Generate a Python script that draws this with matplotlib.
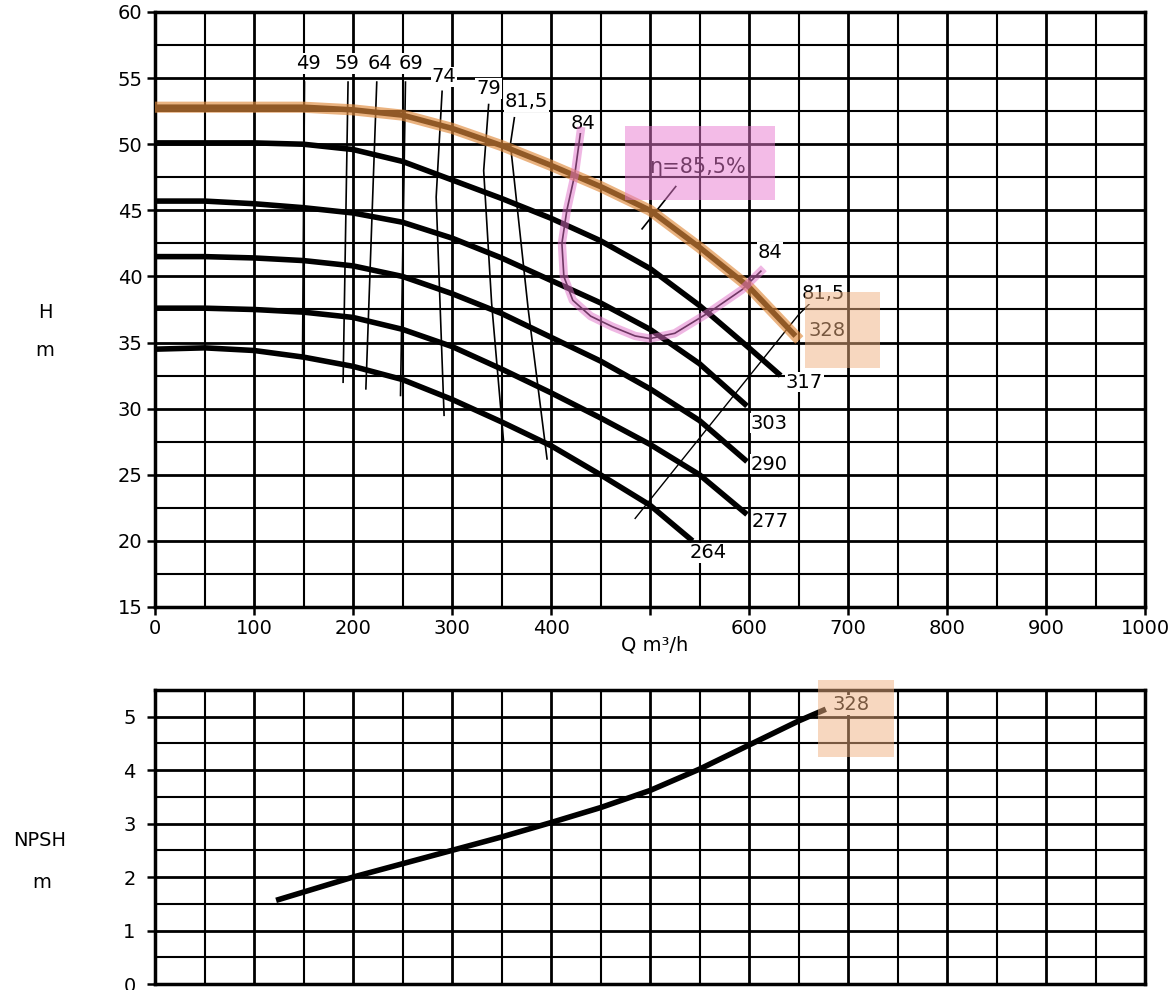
import numpy as np
import matplotlib
matplotlib.use("Agg")
import matplotlib.pyplot as plt
from matplotlib.patches import Rectangle

plt.rcParams['font.family'] = ['DejaVu Sans']

# head curves H(Q) per impeller diameter
diameters = ['328', '317', '303', '290', '277', '264']
q_std = [0, 50, 100, 150, 200, 250, 300, 350, 400, 450, 500, 550]
q_328 = q_std + [600, 647]
h_328 = [52.8, 52.8, 52.8, 52.8, 52.6, 52.2, 51.2, 49.9, 48.4, 46.8, 45.0, 42.2, 39.2, 35.5]
q_317 = q_std + [600, 632]
h_317 = [50.1, 50.1, 50.1, 50.0, 49.6, 48.7, 47.3, 45.9, 44.4, 42.7, 40.6, 37.8, 34.6, 32.5]
q_303 = q_std + [598]
h_303 = [45.7, 45.7, 45.5, 45.2, 44.8, 44.1, 42.9, 41.4, 39.7, 38.0, 36.0, 33.4, 30.2]
q_290 = q_std + [598]
h_290 = [41.5, 41.5, 41.4, 41.2, 40.8, 40.0, 38.7, 37.2, 35.4, 33.6, 31.5, 29.1, 26.0]
q_277 = q_std + [598]
h_277 = [37.6, 37.6, 37.5, 37.3, 36.9, 36.0, 34.7, 33.0, 31.2, 29.3, 27.3, 25.0, 22.0]
q_264 = q_std[:-1] + [543]
h_264 = [34.5, 34.6, 34.4, 33.9, 33.2, 32.2, 30.7, 29.0, 27.2, 25.0, 22.7, 20.0]
curve_q = [q_328, q_317, q_303, q_290, q_277, q_264]
curve_h = [h_328, h_317, h_303, h_290, h_277, h_264]
# where the diameter labels sit
dia_lab_q = [660, 637, 602, 602, 603, 540]
dia_lab_h = [35.9, 32.0, 28.9, 25.8, 21.5, 19.1]

# iso-efficiency lines (%)
eff_names = ['49', '59', '64', '69', '74', '79', '81,5']
eff_q = [[151, 149], [195, 190], [224, 213], [253, 248],
         [290, 284, 292], [337, 332, 340, 352], [363, 359, 377, 396]]
eff_h = [[54.7, 33.8], [54.7, 32.0], [54.7, 31.5], [54.7, 31.0],
         [54.0, 46.0, 29.5], [53.0, 48.0, 38.0, 27.6], [52.0, 50.0, 37.5, 26.2]]
eff_lab_q = [155, 194, 227, 259, 292, 337, 375]
eff_lab_h = [56.1, 56.1, 56.1, 56.1, 55.1, 54.2, 53.2]

# 84 % loop and right hand 81,5 % line
loop84_q = [430, 424, 416, 411, 413, 422, 440, 462, 485, 500, 525, 560, 593, 612]
loop84_h = [51.0, 47.7, 45.0, 42.5, 40.0, 38.2, 37.0, 36.2, 35.5, 35.3, 35.7, 37.3, 39.0, 40.4]
r815_q = [485, 650, 662]
r815_h = [21.7, 37.1, 38.0]

# NPSH curve
npsh_q = [125, 200, 250, 300, 350, 400, 450, 500, 550, 600, 650, 675]
npsh_v = [1.58, 2.0, 2.25, 2.5, 2.75, 3.02, 3.3, 3.62, 4.02, 4.47, 4.92, 5.12]

q_ticks = list(range(0, 1001, 100))
q_ticklabels = [str(q) if q != 500 else '' for q in q_ticks]

fs = 14
W, H = 1174, 990
fig = plt.figure(figsize=(W / 100, H / 100), dpi=100)

######## head chart
ax = fig.add_axes([155 / W, 1 - 607 / H, 990 / W, 595 / H])
ax.set_xlim(0, 1000)
ax.set_ylim(15, 60)
for q in range(0, 1001, 50):
    ax.axvline(q, color='black', lw=2.0 if q % 100 == 0 else 1.5, zorder=1)
for h in np.arange(15, 60.1, 2.5):
    ax.axhline(h, color='black', lw=2.0 if h % 5 == 0 else 1.5, zorder=1)

for qs, hs in zip(eff_q, eff_h):
    ax.plot(qs, hs, color='black', lw=1.2, zorder=2)
ax.plot(loop84_q, loop84_h, color='black', lw=1.2, zorder=2)
ax.plot(r815_q, r815_h, color='black', lw=1.0, zorder=2)
ax.plot([492, 526], [43.6, 46.8], color='black', lw=1.2, zorder=2)

for qs, hs in zip(curve_q, curve_h):
    ax.plot(qs, hs, color='black', lw=4, solid_capstyle='butt',
            solid_joinstyle='round', zorder=3)

txt = dict(fontsize=fs, color='black', zorder=4,
           bbox=dict(fc='white', ec='none', pad=0.5))
for name, x, y in zip(diameters, dia_lab_q, dia_lab_h):
    ax.text(x, y, name, ha='left', va='center', **txt)
for name, x, y in zip(eff_names, eff_lab_q, eff_lab_h):
    ax.text(x, y, name, ha='center', va='center', **txt)
ax.text(432, 51.6, '84', ha='center', va='center', **txt)
ax.text(621, 41.8, '84', ha='center', va='center', **txt)
ax.text(675, 38.7, '81,5', ha='center', va='center', **txt)
ax.text(548, 48.3, 'η=85,5%', ha='center', va='center', fontsize=15, zorder=4)

# highlights drawn over the scan
ax.plot(q_328, h_328, color='#E08A3C', lw=8, alpha=0.65,
        solid_joinstyle='round', zorder=5)
ax.plot(loop84_q, loop84_h, color='#E070C8', lw=6, alpha=0.5,
        solid_joinstyle='round', zorder=5)
ax.add_patch(Rectangle((475, 45.8), 151, 5.6, color='#E879D0', alpha=0.5, lw=0, zorder=6))
ax.add_patch(Rectangle((657, 33.1), 75, 5.7, color='#F0B080', alpha=0.5, lw=0, zorder=6))

ax.set_xticks(q_ticks)
ax.set_xticklabels(q_ticklabels)
ax.set_yticks(range(15, 61, 5))
ax.tick_params(direction='out', length=6, width=1.8, labelsize=fs, pad=3)
for s in ax.spines.values():
    s.set_linewidth(2.5)

######## NPSH chart
ax2 = fig.add_axes([155 / W, 1 - 984 / H, 990 / W, 294 / H])
ax2.set_xlim(0, 1000)
ax2.set_ylim(0, 5.5)
for q in range(0, 1001, 50):
    ax2.axvline(q, color='black', lw=2.0 if q % 100 == 0 else 1.5, zorder=1)
for v in np.arange(0, 5.51, 0.5):
    ax2.axhline(v, color='black', lw=2.0 if v % 1 == 0 else 1.5, zorder=1)
ax2.plot(npsh_q, npsh_v, color='black', lw=4, solid_joinstyle='round', zorder=3)
ax2.text(684, 5.22, '328', ha='left', va='center', fontsize=fs, zorder=4,
         bbox=dict(fc='white', ec='none', pad=0.5))
ax2.add_patch(Rectangle((670, 4.24), 76, 1.44, color='#F0B080', alpha=0.5,
                        lw=0, zorder=6, clip_on=False))
ax2.set_xticks([])
ax2.set_yticks(range(0, 6))
ax2.tick_params(direction='out', length=6, width=1.8, labelsize=fs, pad=8)
for s in ax2.spines.values():
    s.set_linewidth(2.5)

fig.text(45 / W, 1 - 312 / H, 'H', ha='center', va='center', fontsize=fs)
fig.text(45 / W, 1 - 350 / H, 'm', ha='center', va='center', fontsize=fs)
fig.text(655 / W, 1 - 645 / H, 'Q m³/h', ha='center', va='center', fontsize=fs)
fig.text(40 / W, 1 - 840 / H, 'NPSH', ha='center', va='center', fontsize=fs)
fig.text(42 / W, 1 - 882 / H, 'm', ha='center', va='center', fontsize=fs)

fig.savefig('out.png', dpi=100)
